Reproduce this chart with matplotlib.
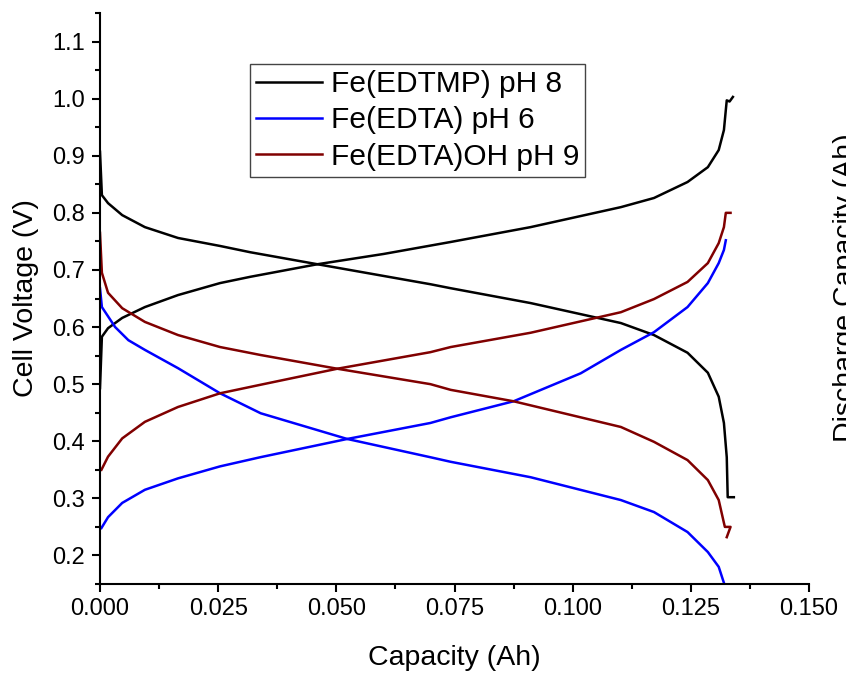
import matplotlib
matplotlib.use('Agg')
import matplotlib.pyplot as plt
from matplotlib.ticker import MultipleLocator, FormatStrFormatter

plt.rcParams['font.family'] = ['Liberation Sans', 'DejaVu Sans']

# Fe(EDTMP) pH 8
edtmp_chg_x = [0, 0.0004, 0.0017, 0.0047, 0.0095, 0.0165, 0.0254, 0.0318, 0.046, 0.060, 0.0742,
               0.0911, 0.1102, 0.1172, 0.1243, 0.1286, 0.1309, 0.132, 0.1324, 0.1326, 0.1332, 0.1339]
edtmp_chg_y = [0.493, 0.583, 0.598, 0.616, 0.635, 0.656, 0.677, 0.688, 0.710, 0.728, 0.749,
               0.775, 0.81, 0.826, 0.854, 0.88, 0.91, 0.945, 0.98, 0.997, 0.995, 1.003]
edtmp_dis_x = [0, 0.0004, 0.0017, 0.0047, 0.0095, 0.0165, 0.0254, 0.0318, 0.046, 0.0699, 0.0742,
               0.0911, 0.1102, 0.1172, 0.1243, 0.1286, 0.1309, 0.132, 0.1326, 0.1328, 0.1341]
edtmp_dis_y = [0.907, 0.831, 0.817, 0.796, 0.775, 0.756, 0.742, 0.731, 0.710, 0.675, 0.668,
               0.642, 0.607, 0.586, 0.555, 0.52, 0.478, 0.432, 0.372, 0.302, 0.302]

# Fe(EDTA) pH 6
edta_chg_x = [0.0003, 0.0017, 0.0047, 0.0095, 0.0165, 0.0254, 0.0339, 0.0523, 0.0699, 0.0742,
              0.0875, 0.1017, 0.1102, 0.1172, 0.1243, 0.1286, 0.1309, 0.132, 0.1324]
edta_chg_y = [0.248, 0.267, 0.292, 0.315, 0.335, 0.356, 0.372, 0.404, 0.432, 0.442,
              0.47, 0.519, 0.56, 0.591, 0.635, 0.677, 0.712, 0.735, 0.752]
edta_dis_x = [0, 0.0004, 0.0032, 0.006, 0.0095, 0.0165, 0.0254, 0.034, 0.0523, 0.0699, 0.0742,
              0.0911, 0.1102, 0.1172, 0.1243, 0.1286, 0.1309, 0.132]
edta_dis_y = [0.668, 0.635, 0.60, 0.577, 0.56, 0.528, 0.484, 0.449, 0.404, 0.372, 0.364,
              0.337, 0.297, 0.276, 0.241, 0.206, 0.18, 0.152]

# Fe(EDTA)OH pH 9
edtaoh_chg_x = [0.0003, 0.0017, 0.0047, 0.0095, 0.0165, 0.0254, 0.034, 0.0502, 0.0699, 0.0742,
                0.0911, 0.1102, 0.1172, 0.1243, 0.1286, 0.1309, 0.132, 0.1324, 0.1334]
edtaoh_chg_y = [0.35, 0.373, 0.405, 0.434, 0.46, 0.484, 0.499, 0.527, 0.556, 0.565,
                0.59, 0.626, 0.649, 0.679, 0.712, 0.747, 0.775, 0.80, 0.80]
edtaoh_dis_x = [0, 0.0004, 0.0017, 0.0047, 0.0095, 0.0165, 0.0254, 0.034, 0.0502, 0.0699, 0.0742,
                0.0875, 0.1102, 0.1172, 0.1243, 0.1286, 0.1309, 0.132, 0.1322, 0.1334, 0.1326]
edtaoh_dis_y = [0.765, 0.695, 0.66, 0.633, 0.609, 0.586, 0.565, 0.551, 0.527, 0.50, 0.49,
                0.47, 0.425, 0.399, 0.367, 0.332, 0.297, 0.257, 0.25, 0.25, 0.232]

fig = plt.figure(figsize=(8.46, 6.74), dpi=100)
ax = fig.add_axes([100/846, 1-584/674, 709/846, 571/674])

lw = 1.8
ax.plot(edtmp_chg_x, edtmp_chg_y, color='black', lw=lw, label='Fe(EDTMP) pH 8')
ax.plot(edtmp_dis_x, edtmp_dis_y, color='black', lw=lw)
ax.plot(edta_chg_x, edta_chg_y, color='#0000ff', lw=lw, label='Fe(EDTA) pH 6')
ax.plot(edta_dis_x, edta_dis_y, color='#0000ff', lw=lw)
ax.plot(edtaoh_chg_x, edtaoh_chg_y, color='#800000', lw=lw, label='Fe(EDTA)OH pH 9')
ax.plot(edtaoh_dis_x, edtaoh_dis_y, color='#800000', lw=lw)

ax.set_xlim(0, 0.150)
ax.set_ylim(0.15, 1.15)
ax.xaxis.set_major_locator(MultipleLocator(0.025))
ax.xaxis.set_minor_locator(MultipleLocator(0.0125))
ax.yaxis.set_major_locator(MultipleLocator(0.1))
ax.yaxis.set_minor_locator(MultipleLocator(0.05))
ax.xaxis.set_major_formatter(FormatStrFormatter('%.3f'))
ax.yaxis.set_major_formatter(FormatStrFormatter('%.1f'))

for s in ['top', 'right']:
    ax.spines[s].set_visible(False)
for s in ['left', 'bottom']:
    ax.spines[s].set_linewidth(1.5)
ax.tick_params(which='major', direction='out', length=6, width=1.5, labelsize=17, pad=4)
ax.tick_params(axis='y', which='major', pad=5)
ax.tick_params(which='minor', direction='out', length=3.5, width=1.5)

ax.set_xlabel('Capacity (Ah)', fontsize=20.5, labelpad=18)
ax.set_ylabel('Cell Voltage (V)', fontsize=20.5, labelpad=9)

leg = ax.legend(loc='upper left', bbox_to_anchor=(150/709, 1-(64-13)/571), fontsize=21.5,
                frameon=True, fancybox=False, edgecolor='#444444', framealpha=1,
                handlelength=2.2, handletextpad=0.3, labelspacing=0.28,
                borderpad=0.2, borderaxespad=0)
leg.get_frame().set_linewidth(1.0)

fig.text(833/846, 0.573, 'Discharge Capacity (Ah)', rotation=90, fontsize=20.5,
         ha='left', va='center')

plt.savefig('out.png', dpi=100)
